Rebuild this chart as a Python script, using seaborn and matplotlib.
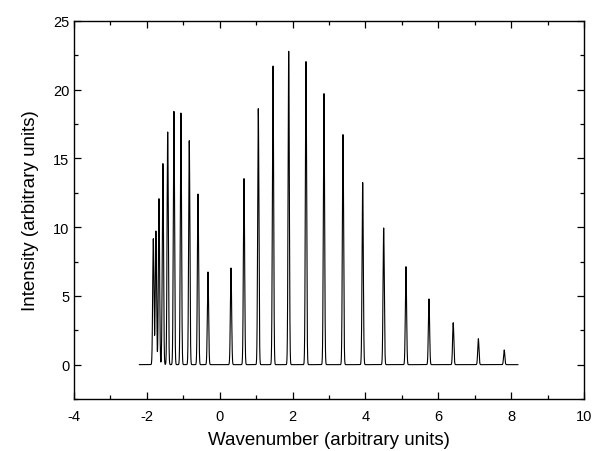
import numpy as np
import pandas as pd
import seaborn as sns
import matplotlib.pyplot as plt
from matplotlib.ticker import MultipleLocator

# Peak positions and heights
p_branch_pos = [-1.823, -1.752, -1.667, -1.560, -1.428, -1.257, -1.065, -0.836, -0.596, -0.322]
p_branch_int = [9.16, 9.72, 12.07, 14.62, 16.92, 18.42, 18.30, 16.29, 12.41, 6.74]

r_branch_pos = [0.310, 0.667, 1.059, 1.463, 1.894, 2.368, 2.862, 3.384,
                3.925, 4.501, 5.113, 5.745, 6.410, 7.100, 7.810]
r_branch_int = [7.03, 13.53, 18.62, 21.72, 22.79, 22.04, 19.71, 16.73,
                13.24, 9.94, 7.13, 4.78, 3.05, 1.89, 1.07]

x_start, x_end = -2.21, 8.19
line_width = 0.017  # gaussian sigma of each line

# Build the spectrum as a sum of narrow lines
wn = np.linspace(x_start, x_end, 20001)
inten = np.zeros_like(wn)
for pos, h in zip(p_branch_pos + r_branch_pos, p_branch_int + r_branch_int):
    inten += h * np.exp(-0.5 * ((wn - pos) / line_width) ** 2)
df = pd.DataFrame({"Wavenumber": wn, "Intensity": inten})

sns.set_theme(style="ticks")
plt.rcParams['font.family'] = ['Liberation Sans', 'DejaVu Sans']
plt.rcParams['axes.unicode_minus'] = False

fig = plt.figure(figsize=(5.93, 4.52), dpi=100)
ax = fig.add_axes([0.1248, 0.115, 0.8600, 0.8365])

sns.lineplot(data=df, x="Wavenumber", y="Intensity", color="black",
             linewidth=0.8, estimator=None, sort=False, ax=ax)

ax.set_xlim(-4, 10)
ax.set_ylim(-2.5, 25)
ax.xaxis.set_major_locator(MultipleLocator(2))
ax.xaxis.set_minor_locator(MultipleLocator(1))
ax.yaxis.set_major_locator(MultipleLocator(5))
ax.yaxis.set_minor_locator(MultipleLocator(2.5))
ax.tick_params(which="both", direction="in", top=True, right=True,
               color="black", width=0.9, labelsize=10.5, labelcolor="black")
ax.tick_params(which="major", length=5)
ax.tick_params(which="minor", length=3)
ax.tick_params(axis="x", which="major", pad=7)
for s in ax.spines.values():
    s.set_color("black")
    s.set_linewidth(1.0)

ax.set_xlabel("Wavenumber (arbitrary units)", fontsize=13.5, color="black", labelpad=6)
ax.set_ylabel("Intensity (arbitrary units)", fontsize=13.5, color="black", labelpad=10)

fig.savefig("out.png", dpi=100)
